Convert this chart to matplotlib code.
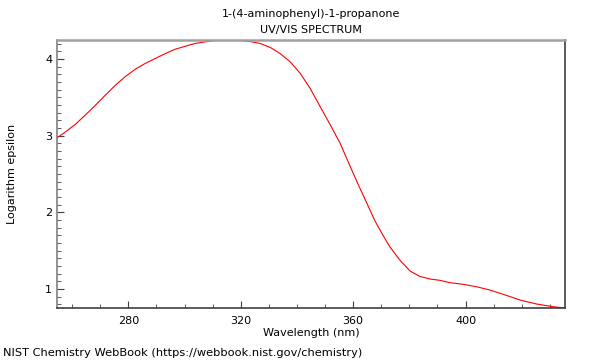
import matplotlib
matplotlib.use("Agg")
import matplotlib.pyplot as plt
from matplotlib.ticker import MultipleLocator

title = "1-(4-aminophenyl)-1-propanone\nUV/VIS SPECTRUM"
x_label = "Wavelength (nm)"
y_label = "Logarithm epsilon"
footer = "NIST Chemistry WebBook (https://webbook.nist.gov/chemistry)"

# values
wavelength = [254.6, 257.6, 261.2, 264.7, 268.3, 271.8, 275.4, 278.9, 282.5,
              286.0, 289.6, 293.2, 296.7, 300.3, 303.8, 307.4, 310.9, 314.5,
              318.0, 319.8, 323.4, 326.9, 330.5, 334.0, 337.6, 341.2, 344.7,
              348.3, 351.9, 355.4, 359.0, 361.9, 364.9, 367.8, 370.8, 373.2,
              376.7, 380.3, 383.8, 387.4, 390.9, 394.5, 399.2, 404.0, 408.7,
              413.5, 419.4, 425.3, 431.2, 435.4]
log_eps = [2.974, 3.050, 3.152, 3.272, 3.400, 3.531, 3.661, 3.772, 3.870,
           3.944, 4.009, 4.074, 4.130, 4.169, 4.205, 4.226, 4.244, 4.248,
           4.250, 4.244, 4.230, 4.205, 4.153, 4.074, 3.965, 3.813, 3.618,
           3.378, 3.140, 2.900, 2.596, 2.357, 2.119, 1.887, 1.690, 1.545,
           1.375, 1.235, 1.165, 1.132, 1.115, 1.084, 1.063, 1.031, 0.988,
           0.932, 0.858, 0.806, 0.771, 0.754]

fig = plt.figure(figsize=(6, 3.6), dpi=100)
ax = fig.add_axes([0.095, 0.1444, 0.8467, 0.7445])

ax.plot(wavelength, log_eps, color="red", linewidth=0.8)
ax.set_xlim(min(wavelength), max(wavelength))
ax.set_ylim(min(log_eps), max(log_eps))

ax.xaxis.set_major_locator(MultipleLocator(40))
ax.xaxis.set_minor_locator(MultipleLocator(10))
ax.yaxis.set_major_locator(MultipleLocator(1))
ax.yaxis.set_minor_locator(MultipleLocator(0.1))
ax.tick_params(which="both", direction="in", labelsize=8, color="#404040")
ax.tick_params(which="major", length=5)
ax.tick_params(which="minor", length=3)
ax.tick_params(axis="x", pad=6)
ax.tick_params(top=False, right=False)

ax.spines["top"].set_color("#a0a0a0")
ax.spines["top"].set_linewidth(1.8)
ax.spines["left"].set_color("#808080")
ax.spines["right"].set_color("#404040")
ax.spines["bottom"].set_color("#404040")
for s in ("left", "right", "bottom"):
    ax.spines[s].set_linewidth(1.2)

ax.set_title(title, fontsize=8, pad=5, linespacing=1.7)
ax.set_xlabel(x_label, fontsize=8, labelpad=1)
ax.set_ylabel(y_label, fontsize=8, labelpad=20)
fig.text(0.005, 0.005, footer, fontsize=8.2, ha="left", va="bottom")

fig.savefig("out.png", dpi=100)
